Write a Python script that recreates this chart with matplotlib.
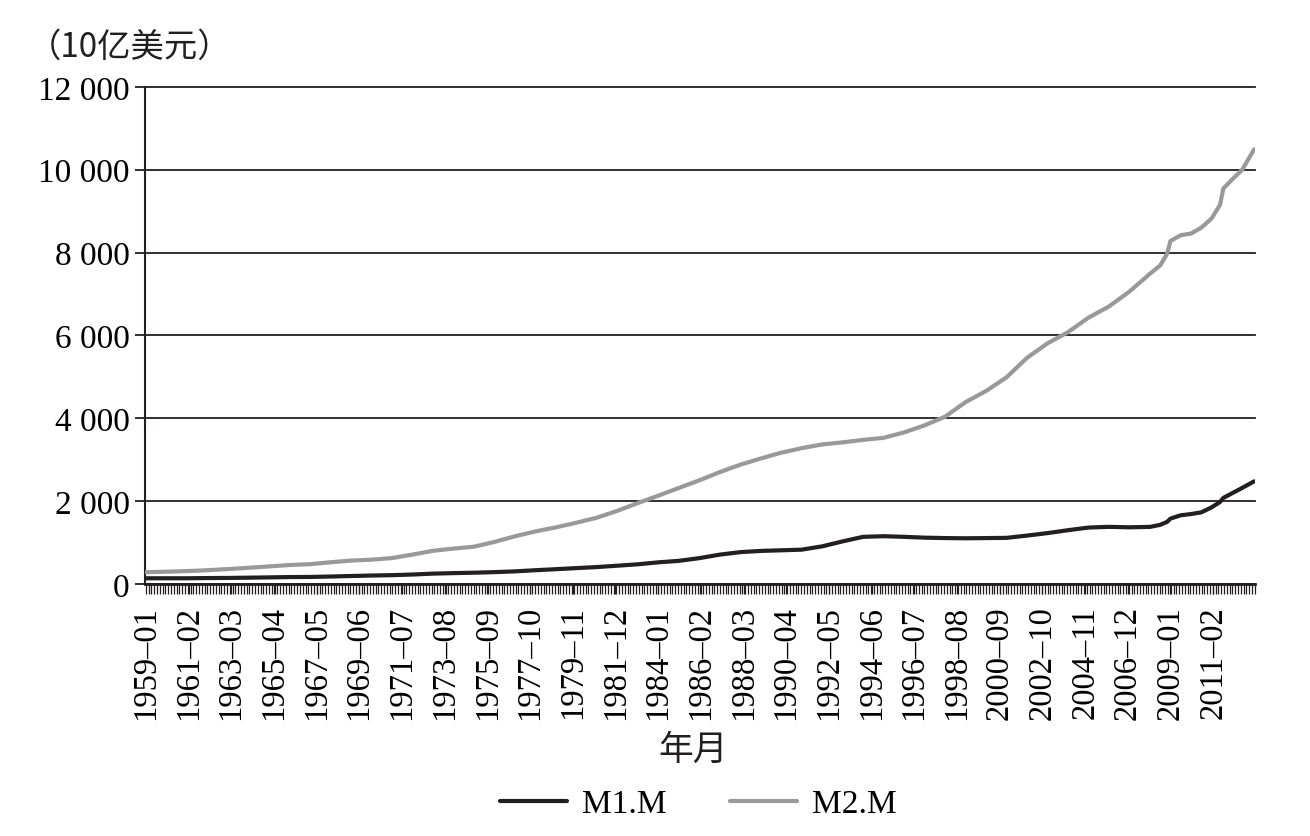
import matplotlib
matplotlib.use("Agg")
import matplotlib.pyplot as plt
from matplotlib.ticker import MultipleLocator, FixedLocator

plt.rcParams['font.family'] = ['Liberation Serif', 'Noto Sans CJK SC']

# data points (year-month, 10亿美元)
dates = ['1959-01', '1960-01', '1961-01', '1962-01', '1963-01', '1964-01',
         '1965-01', '1966-01', '1967-01', '1968-01', '1969-01', '1970-01',
         '1971-01', '1972-01', '1973-01', '1974-01', '1975-01', '1976-01',
         '1977-01', '1978-01', '1979-01', '1980-01', '1981-01', '1982-01',
         '1983-01', '1984-01', '1985-01', '1986-01', '1987-01', '1988-01',
         '1989-01', '1990-01', '1991-01', '1992-01', '1993-01', '1994-01',
         '1995-01', '1996-01', '1997-01', '1998-01', '1999-01', '2000-01',
         '2001-01', '2002-01', '2003-01', '2004-01', '2005-01', '2006-01',
         '2007-01', '2008-01', '2008-07', '2008-11', '2009-01', '2009-07',
         '2010-01', '2010-07', '2011-01', '2011-06', '2011-08', '2012-01',
         '2012-07', '2013-02']

m1 = [139, 140, 140, 145, 148, 154, 161, 169, 172, 182, 194, 206,
      215, 230, 252, 264, 274, 288, 306, 334, 359, 385, 410, 443,
      477, 524, 560, 625, 710, 770, 800, 815, 830, 910, 1030, 1140,
      1155, 1140, 1120, 1110, 1105, 1110, 1115, 1170, 1230, 1300, 1364, 1381,
      1370, 1380, 1430, 1500, 1580, 1660, 1690, 1730, 1850, 1980, 2080, 2190,
      2320, 2480]

m2 = [287, 298, 313, 334, 362, 393, 425, 459, 480, 525, 567, 588,
      627, 710, 802, 856, 901, 1016, 1152, 1270, 1367, 1480, 1601, 1766,
      1954, 2132, 2318, 2502, 2700, 2880, 3030, 3170, 3280, 3370, 3420, 3480,
      3530, 3660, 3830, 4040, 4390, 4660, 4990, 5460, 5810, 6080, 6430, 6700,
      7060, 7490, 7690, 7970, 8280, 8420, 8460, 8600, 8820, 9150, 9550, 9760,
      10000, 10490]

tick_labels = ['1959–01', '1961–02', '1963–03', '1965–04', '1967–05', '1969–06',
               '1971–07', '1973–08', '1975–09', '1977–10', '1979–11', '1981–12',
               '1984–01', '1986–02', '1988–03', '1990–04', '1992–05', '1994–06',
               '1996–07', '1998–08', '2000–09', '2002–10', '2004–11', '2006–12',
               '2009–01', '2011–02']

n_months = 650  # 1959-01 .. 2013-02


def month_index(s):
    y, m = s.replace('–', '-').split('-')
    return (int(y) - 1959) * 12 + int(m) - 1


x = [month_index(d) for d in dates]
tick_pos = [month_index(t) for t in tick_labels]

black = '#231f20'
grey = '#999999'

fig = plt.figure(figsize=(13.1, 8.37), dpi=100)
ax = fig.add_axes([0.1107, 0.301, 0.8473, 0.594])

ax.plot(x, m1, color=black, lw=3.0, label='M1.M', solid_joinstyle='round',
        solid_capstyle='round', zorder=3)
ax.plot(x, m2, color=grey, lw=3.0, label='M2.M', solid_joinstyle='round',
        solid_capstyle='round', zorder=3)

ax.set_xlim(-0.5, n_months - 0.5)
ax.set_ylim(0, 12000)
ax.set_yticks(range(0, 12001, 2000))
ax.set_yticklabels([f'{v:,}'.replace(',', ' ') for v in range(0, 12001, 2000)])
ax.yaxis.grid(True, color=black, lw=1.3)
for gl in ax.get_ygridlines():
    gl.set_clip_on(False)
ax.set_axisbelow(True)

ax.xaxis.set_major_locator(FixedLocator(tick_pos))
ax.set_xticklabels(tick_labels, rotation=90)
ax.xaxis.set_minor_locator(MultipleLocator(1.64))

for s in ['top', 'right']:
    ax.spines[s].set_visible(False)
ax.spines['left'].set_color(black)
ax.spines['left'].set_linewidth(1.5)
ax.spines['bottom'].set_color(black)
ax.spines['bottom'].set_linewidth(2.0)

ax.tick_params(axis='y', which='major', length=7, width=1.3, color=black,
               labelsize=24, pad=4)
ax.tick_params(axis='x', which='both', length=7, width=0.9, color=black,
               labelsize=23.5, pad=8)

fig.text(0.021, 0.943, '（10亿美元）', fontsize=24, va='center', ha='left',
         family=['Noto Sans CJK SC'], fontweight='light', color=black)
fig.text(0.529, 0.104, '年月', fontsize=25, va='center', ha='center',
         family=['Noto Sans CJK SC'], fontweight='light', color=black)

fig.legend(loc='center', bbox_to_anchor=(0.533, 0.038), ncol=2, frameon=False,
           fontsize=24, handlelength=2.0, columnspacing=1.9, handletextpad=0.45)

fig.savefig('out.png', dpi=100)
